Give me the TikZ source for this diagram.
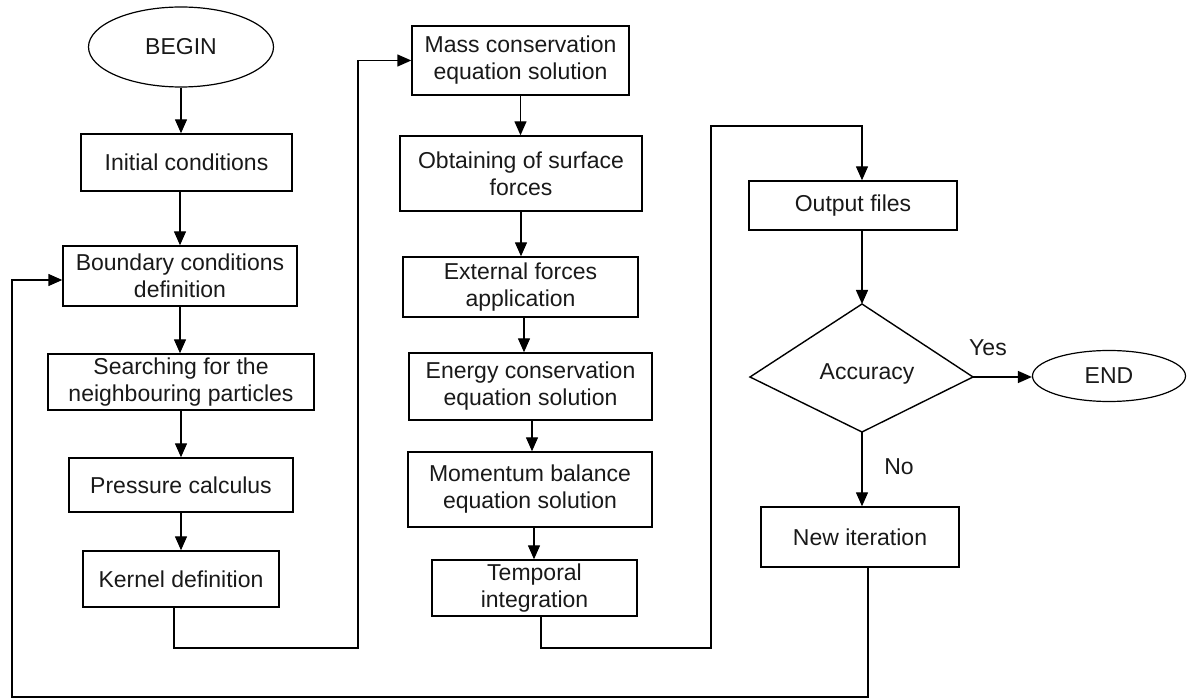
\documentclass[tikz,border=0pt]{standalone}
\usepackage{fontspec}
\setmainfont{Liberation Sans}
\usetikzlibrary{shapes.geometric,arrows.meta}

\begin{document}
\begin{tikzpicture}[x=1pt,y=-1pt,
  every node/.style={font=\fontsize{23}{27}\selectfont, text=black!90},
  box/.style={draw, line width=1.4pt, rectangle, align=center, inner sep=2pt},
  term/.style={draw, line width=1.2pt, ellipse, inner sep=0pt},
  link/.style={line width=1.4pt},
  arr/.style={link, -{Triangle[length=14pt,width=12pt]}},
  lbl/.style={inner sep=0pt}]

\useasboundingbox (0,0) rectangle (1187,700);

% left column
\node[term, minimum width=185pt, minimum height=80pt] (begin) at (181,47) {BEGIN};
\node[box, minimum width=211pt, minimum height=57pt] (init) at (186.5,162.5) {Initial conditions};
\node[box, minimum width=234pt, minimum height=60pt] (bound) at (180,276) {Boundary conditions\\definition};
\node[box, minimum width=266pt, minimum height=56pt] (search) at (181,382) {Searching for the\\neighbouring particles};
\node[box, minimum width=224pt, minimum height=54pt] (press) at (181,485) {Pressure calculus};
\node[box, minimum width=196pt, minimum height=56pt] (kern) at (181,579) {Kernel definition};

% middle column
\node[box, minimum width=217pt, minimum height=69pt] (mass) at (520.5,60.5) {Mass conservation\\equation solution};
\node[box, minimum width=242pt, minimum height=75pt] (obtain) at (521,173.5) {Obtaining of surface\\forces};
\node[box, minimum width=235pt, minimum height=60pt] (ext) at (520.5,287) {External forces\\application};
\node[box, minimum width=243pt, minimum height=67pt] (energy) at (530.5,386.5) {Energy conservation\\equation solution};
\node[box, minimum width=244pt, minimum height=75pt] (moment) at (530,489.5) {Momentum balance\\equation solution};
\node[box, minimum width=205pt, minimum height=56pt] (temporal) at (534.5,588) {Temporal\\integration};

% right column
\node[box, minimum width=208pt, minimum height=49pt] (output) at (853,205.5) {Output files};
\coordinate (dtop) at (862,304);
\coordinate (dleft) at (750,377);
\coordinate (dright) at (973,377);
\coordinate (dbottom) at (862,432);
\draw[link, line join=miter] (dtop) -- (dright) -- (dbottom) -- (dleft) -- cycle;
\node[lbl] (acc) at (867,374) {Accuracy};
\node[term, minimum width=153pt, minimum height=51pt] (end) at (1109,376) {END};
\node[box, minimum width=198pt, minimum height=60pt] (newit) at (860,537) {New iteration};

% routing corners
\coordinate (k1) at (358,648);
\coordinate (t1) at (711,648);
\coordinate (t2) at (711,126);
\coordinate (n1) at (12,697);

% straight flow
\draw[arr] (begin.south) -- (begin.south |- init.north);
\draw[arr] (bound.north |- init.south) -- (bound.north);
\draw[arr] (bound.south) -- (bound.south |- search.north);
\draw[arr] (search.south) -- (press.north);
\draw[arr] (press.south) -- (kern.north);

\draw[arr] (mass.south) -- (mass.south |- obtain.north);
\draw[arr] (obtain.south) -- (obtain.south |- ext.north);
\draw[arr] ([xshift=3.5pt]ext.south) -- ([xshift=3.5pt]ext.south |- energy.north);
\draw[arr] ([xshift=1.5pt]energy.south) -- ([xshift=1.5pt]energy.south |- moment.north);
\draw[arr] ([xshift=4pt]moment.south) -- ([xshift=4pt]moment.south |- temporal.north);

% column changes
\draw[arr] ([xshift=-7pt]kern.south) |- (k1) |- (mass.west);
\draw[arr] ([xshift=6.5pt]temporal.south) |- (t1) -- (t2) -| ([xshift=9pt]output.north);

% decision
\draw[arr] (dtop |- output.south) -- (dtop);
\draw[arr] (dright) -- (dright -| end.west);
\node[lbl] (yes) at (988,348) {Yes};
\draw[arr] (dbottom) -- (dbottom |- newit.north);
\node[lbl] (no) at (899,467) {No};

% loop back
\draw[arr] ([xshift=8pt]newit.south) |- (n1) |- ([yshift=-4pt]bound.west);

\end{tikzpicture}
\end{document}
